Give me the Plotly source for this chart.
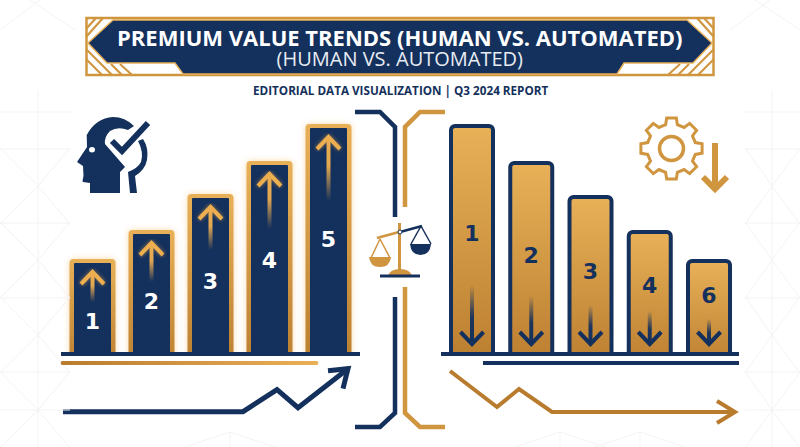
import base64, math
import plotly.graph_objects as go

# ---------- data ----------
human_labels = ["1", "2", "3", "4", "5"]
human_values = [91, 120, 156, 189, 226]
auto_labels = ["1", "2", "3", "4", "6"]
auto_values = [228, 191, 157, 122, 93]
human_trend_x = [0, 180, 214, 235, 285]
human_trend_y = [0, 0, 22, 4, 43]
auto_trend_x = [0, 47, 69, 102, 285]
auto_trend_y = [41, 5, 23, 0, 0]
title_line = "PREMIUM VALUE TRENDS (HUMAN VS. AUTOMATED)"
subtitle_line = "(HUMAN VS. AUTOMATED)"
caption_line = "EDITORIAL DATA VISUALIZATION | Q3 2024 REPORT"

# label heights inside the bars, on the value scale
human_label_at = [31, 51, 71, 92, 113]
auto_label_at = [119, 97, 81, 67, 57]
human_arrow_len = [28, 37, 41, 53, 62]
auto_arrow_len = [59, 48, 39, 33, 25]

NAVY = "#14305C"
GOLD = "#D0953F"
GOLD_L = "#E8B158"
GOLD_D = "#B97C2E"
W, H = 800, 447
BASE = 354
STEP_L, STEP_R = 59.0, 59.25
PAD = 30  # spare room round the trend lines so that strokes and arrow heads are not clipped


def uri(svg):
    return "data:image/svg+xml;base64," + base64.b64encode(svg.encode()).decode()


def frame_svg(w, h, pad, rx, glow):
    f = ('<filter id="b" x="-50%" y="-50%" width="200%" height="200%"><feGaussianBlur stdDeviation="3"/></filter>'
         if glow else "")
    gl = (f'<rect x="{pad}" y="{pad}" width="{w}" height="{h+20}" rx="{rx}" fill="#F2B04A" opacity="0.45" filter="url(#b)"/>'
          if glow else "")
    return uri(
        f'<svg xmlns="http://www.w3.org/2000/svg" width="{w+2*pad}" height="{h+pad}" '
        f'viewBox="0 0 {w+2*pad} {h+pad}" preserveAspectRatio="none"><defs>'
        f'<linearGradient id="g" x1="0" y1="0" x2="0" y2="1"><stop offset="0" stop-color="{GOLD_L}"/>'
        f'<stop offset="1" stop-color="{GOLD_D}"/></linearGradient>{f}</defs>{gl}'
        f'<rect x="{pad}" y="{pad}" width="{w}" height="{h+20}" rx="{rx}" fill="url(#g)"/></svg>')


def arrow_svg(color, length, up, glow):
    w, h = 30, length + 6
    if up:
        head = "M3.5 16 L15 4 L26.5 16"
        shaft = (15, 4, 15, h)
        stops = [(0, 1), (0.45, 0.95), (1, 0)]
    else:
        head = f"M3.5 {h-16} L15 {h-4} L26.5 {h-16}"
        shaft = (15, 2, 15, h - 4)
        stops = [(0, 0), (0.55, 0.95), (1, 1)]
    f = ('<filter id="b" x="-50%" y="-50%" width="200%" height="200%"><feGaussianBlur stdDeviation="2"/></filter>'
         if glow else "")
    gl = f'<path d="{head}" fill="none" stroke="#F2B04A" stroke-width="4" opacity="0.6" filter="url(#b)"/>' if glow else ""
    rect = f'<rect x="{shaft[0]-2}" y="{shaft[1]}" width="4" height="{shaft[3]-shaft[1]}" fill="url(#a)"/>'
    st = "".join(f'<stop offset="{o}" stop-color="{color}" stop-opacity="{a}"/>' for o, a in stops)
    return uri(
        f'<svg xmlns="http://www.w3.org/2000/svg" width="{w}" height="{h}" viewBox="0 0 {w} {h}">'
        f'<defs><linearGradient id="a" x1="0" y1="0" x2="0" y2="1">{st}</linearGradient>{f}</defs>{gl}{rect}'
        f'<path d="{head}" fill="none" stroke="{color}" stroke-width="4"/></svg>')


fig = go.Figure()

# ---------- bars ----------
fig.add_trace(go.Bar(x=list(range(5)), y=human_values, width=37 / STEP_L, xaxis="x", yaxis="y",
                     marker=dict(color=NAVY, line=dict(width=0), cornerradius=1), hoverinfo="skip"))
fig.add_trace(go.Scatter(x=list(range(5)), y=human_label_at, text=human_labels, mode="text", xaxis="x", yaxis="y",
                         textfont=dict(family="DejaVu Sans", size=22, color="white", weight="bold"), hoverinfo="skip"))
fig.add_trace(go.Bar(x=list(range(5)), y=auto_values, width=42 / STEP_R, xaxis="x2", yaxis="y2",
                     marker=dict(color="rgba(0,0,0,0)", line=dict(width=4, color=NAVY), cornerradius=4), hoverinfo="skip"))
fig.add_trace(go.Scatter(x=list(range(5)), y=auto_label_at, text=auto_labels, mode="text", xaxis="x2", yaxis="y2",
                         textfont=dict(family="DejaVu Sans", size=22, color=NAVY, weight="bold"), hoverinfo="skip"))

# ---------- trend lines ----------
fig.add_trace(go.Scatter(x=human_trend_x, y=human_trend_y, mode="lines", xaxis="x3", yaxis="y3",
                         line=dict(color=NAVY, width=5), hoverinfo="skip"))
fig.add_trace(go.Scatter(x=auto_trend_x, y=auto_trend_y, mode="lines", xaxis="x4", yaxis="y4",
                         line=dict(color=GOLD_D, width=4), hoverinfo="skip"))

images = []
# gold frames and arrows, placed from the values through the axes
for i, v in enumerate(human_values):
    pad = 8
    images.append(dict(source=frame_svg(46, v + 4, pad, 4, True), xref="x", yref="y",
                       x=i - (23 + pad) / STEP_L, y=v + 4 + pad, sizex=(46 + 2 * pad) / STEP_L, sizey=v + 4 + pad,
                       sizing="stretch", xanchor="left", yanchor="top", layer="below"))
    L = human_arrow_len[i]
    images.append(dict(source=arrow_svg("#EDAE50", L, True, True), xref="x", yref="y",
                       x=i - 15 / STEP_L, y=v - 5, sizex=30 / STEP_L, sizey=L + 6,
                       sizing="stretch", xanchor="left", yanchor="top", layer="above"))
for i, v in enumerate(auto_values):
    images.append(dict(source=frame_svg(42, v, 0, 2, False), xref="x2", yref="y2",
                       x=i - 21 / STEP_R, y=v, sizex=42 / STEP_R, sizey=v,
                       sizing="stretch", xanchor="left", yanchor="top", layer="below"))
    L = auto_arrow_len[i]
    images.append(dict(source=arrow_svg(NAVY, L, False, False), xref="x2", yref="y2",
                       x=i - 15 / STEP_R, y=6 + L + 6, sizex=30 / STEP_R, sizey=L + 6,
                       sizing="stretch", xanchor="left", yanchor="top", layer="above"))

# gold rule under the human bars
images.append(dict(source=uri(
    f'<svg xmlns="http://www.w3.org/2000/svg" width="258" height="4" viewBox="0 0 258 4" preserveAspectRatio="none">'
    f'<defs><linearGradient id="g"><stop offset="0" stop-color="{GOLD_D}"/><stop offset="1" stop-color="{GOLD_L}"/></linearGradient></defs>'
    f'<rect width="258" height="4" rx="2" fill="url(#g)"/></svg>'),
    xref="x5", yref="y5", x=60.5, y=361, sizex=258, sizey=4, sizing="stretch", xanchor="left", yanchor="top", layer="below"))

# ---------- page decoration ----------
shapes = []


def pth(d, color=None, width=0, fill=None, layer="below", xref="x5", yref="y5"):
    shapes.append(dict(type="path", path=d, xref=xref, yref=yref, layer=layer,
                       line=dict(color=color or "rgba(0,0,0,0)", width=width),
                       fillcolor=fill or "rgba(0,0,0,0)"))


def poly(pts, close=False):
    return "M" + " L".join(f"{x:.1f} {y:.1f}" for x, y in pts) + (" Z" if close else "")


# arrow heads on the trend lines, hung from each line's last point (axis units are one pixel)
hx, hy = human_trend_x[-1], human_trend_y[-1]
pth(poly([(hx - 20, hy - 2), (hx, hy), (hx - 5, hy - 20)]), NAVY, 5, layer="above", xref="x3", yref="y3")
ax_, ay_ = auto_trend_x[-1], auto_trend_y[-1]
pth(poly([(ax_ - 18, ay_ + 11), (ax_, ay_), (ax_ - 18, ay_ - 11)]), GOLD_D, 4, layer="above", xref="x4", yref="y4")

# faint background lattice
FAINT = "#F3F3F4"
for x0, x1, xc in [(0, 70, 38), (745, 800, 772)]:
    for y in [112, 149, 223, 298, 372, 410]:
        pth(poly([(x0, y), (x1, y)]), FAINT, 1)
    pth(poly([(xc, 90), (xc, 447)]), FAINT, 1)
    for yc in [186, 260, 335, 410]:
        pth(poly([(x0, yc + 38), (xc, yc), (x1, yc - 38)]), FAINT, 1)
        pth(poly([(x0, yc - 38), (xc, yc), (x1, yc + 38)]), FAINT, 1)
for xc in [230, 560, 640]:
    pth(poly([(xc - 45, 447), (xc, 432), (xc + 45, 447)]), FAINT, 1)
    pth(poly([(xc, 432), (xc, 447)]), FAINT, 1)
for a, b in [((0, 30), (40, 0)), ((30, 0), (75, 30)), ((770, 0), (730, 30)), ((800, 30), (755, 0))]:
    pth(poly([a, b]), FAINT, 1)

# banner
pth(poly([(86.5, 18), (713.5, 18), (713.5, 75), (86.5, 75)], True), GOLD, 2.5)
for seg in [[(86, 37), (103, 18)], [(86, 29), (96, 18)],
            [(86, 49), (112, 75)], [(86, 59), (102, 75)], [(111, 64), (122, 75)], [(120, 64), (132, 75)],
            [(714, 37), (697, 18)], [(714, 29), (704, 18)],
            [(714, 49), (688, 75)], [(714, 59), (698, 75)], [(689, 64), (678, 75)], [(680, 64), (668, 75)]]:
    pth(poly(seg), GOLD, 2.2)
pth(poly([(113, 20), (687, 20), (712, 43), (693, 63), (624, 63), (617, 74), (183, 74), (175, 63), (107, 63), (88, 43)], True),
    GOLD_L, 1.5, NAVY)

# baselines
for seg, col, wd in [([(61, BASE), (360, BASE)], NAVY, 4), ([(441, BASE), (739, BASE)], NAVY, 4),
                     ([(483, 363), (739, 363)], NAVY, 4)]:
    pth(poly(seg), col, wd, layer="above")

# central brackets
pth(poly([(355, 112), (380, 112), (395, 127), (395, 217)]), NAVY, 4.5)
pth(poly([(355, 427), (380, 427), (395, 413), (395, 297)]), NAVY, 4.5)
pth(poly([(445, 112), (420, 112), (405, 127), (405, 207)]), GOLD, 4.5)
pth(poly([(445, 427), (420, 427), (405, 413), (405, 287)]), GOLD, 4.5)

# scales
pth(poly([(399.5, 223), (399.5, 272)]), GOLD, 3)
pth(poly([(377, 238), (399, 232)]), GOLD, 2.5)
pth(poly([(400, 232), (422, 226)]), NAVY, 2.5)
pth(poly([(380, 239), (371, 258)]), GOLD, 1.5)
pth(poly([(380, 239), (390, 258)]), GOLD, 1.5)
pth(poly([(421, 226), (411, 244)]), NAVY, 1.5)
pth(poly([(421, 226), (431, 244)]), NAVY, 1.5)
pth("M369 257 L391 257 Q390 267 380 267 Q370 267 369 257 Z", fill=GOLD)
pth("M410 244 L431 244 Q430 255 420.5 255 Q411 255 410 244 Z", fill=NAVY)
pth("M388 276 Q390 269 400 269 Q410 269 412 276 Z", fill=GOLD)
pth(poly([(380, 276), (420, 276)]), NAVY, 3)
shapes.append(dict(type="circle", xref="x5", yref="y5", x0=398, x1=402, y0=230, y1=234, fillcolor="white",
                   line=dict(color=NAVY, width=1), layer="below"))

# head and wrench icon
pth("M86.7 135 Q96 118 113 117 Q125 117 134 126 L128 130 Q118 126 110 131 Q104 137 105 144 "
    "L125 167 L120 172 L120 193 L90 193 L90 183 L83 182 Q82 182 83.5 176 L83 166 L77 162 L87 147 Z", fill=NAVY)
pth("M138 141 Q144 152 141 162 Q138 168 128 172 L130 193 L137 193 L135 176 Q145 170 147 160 Q149 148 143 139 Z", fill=NAVY)
pth(poly([(112, 141), (122, 151), (148, 123)]), NAVY, 6)
shapes.append(dict(type="circle", xref="x5", yref="y5", x0=89, x1=95, y0=147, y1=152.5, fillcolor="white",
                   line=dict(width=0), layer="below"))

# gear and arrow icon
cx, cy = 671.5, 148.5
gear = []
for k in range(8):
    a = math.radians(k * 45 - 90)
    for da, r in [(-14, 24.5), (-9, 31), (9, 31), (14, 24.5)]:
        t = a + math.radians(da)
        gear.append((cx + r * math.cos(t), cy + r * math.sin(t)))
pth(poly(gear, True), GOLD, 3)
shapes.append(dict(type="circle", xref="x5", yref="y5", x0=cx - 12, x1=cx + 12, y0=cy - 12, y1=cy + 12,
                   line=dict(color=GOLD, width=3.5), layer="below"))
pth(poly([(715, 143), (715, 188)]), GOLD, 6)
pth(poly([(703, 177), (715, 189), (727, 177)]), GOLD, 6)


# ---------- layout ----------
def ax(**k):
    return dict(visible=False, fixedrange=True, **k)


def dom(a, b):
    return [a / W, b / W]


def vdom(top, bottom):
    return [(H - bottom) / H, (H - top) / H]


fig.update_layout(
    width=W, height=H, margin=dict(l=0, r=0, t=0, b=0), paper_bgcolor="white", plot_bgcolor="rgba(0,0,0,0)",
    showlegend=False, barmode="overlay", shapes=shapes, images=images,
    xaxis=ax(domain=dom(92.5 - 0.5 * STEP_L, 92.5 + 4.5 * STEP_L), range=[-0.5, 4.5]),
    yaxis=ax(domain=vdom(BASE - 250, BASE), range=[0, 250]),
    xaxis2=ax(domain=dom(472 - 0.5 * STEP_R, 472 + 4.5 * STEP_R), range=[-0.5, 4.5], anchor="y2"),
    yaxis2=ax(domain=vdom(BASE - 250, BASE), range=[0, 250], anchor="x2"),
    xaxis3=ax(domain=dom(63 - PAD, 348 + PAD), range=[-PAD, 285 + PAD], anchor="y3"),
    yaxis3=ax(domain=vdom(368.7 - PAD, 411.7 + PAD), range=[-PAD, 43 + PAD], anchor="x3"),
    xaxis4=ax(domain=dom(450 - PAD, 735 + PAD), range=[-PAD, 285 + PAD], anchor="y4"),
    yaxis4=ax(domain=vdom(371 - PAD, 412 + PAD), range=[-PAD, 41 + PAD], anchor="x4"),
    xaxis5=ax(domain=[0, 1], range=[0, W], anchor="y5"),
    yaxis5=ax(domain=[0, 1], range=[H, 0], anchor="x5"),
    annotations=[
        dict(text=f"<span style='font-size:22px;color:white'><b>{title_line}</b></span><br>"
                  f"<span style='font-size:20px;color:#E8ECF2'>{subtitle_line}</span>",
             xref="x5", yref="y5", x=399.5, y=46.5, showarrow=False, align="center",
             font=dict(family="Open Sans", size=15, color="white")),
        dict(text=f"<b>{caption_line}</b>", xref="x5", yref="y5", x=400, y=89.5, showarrow=False,
             font=dict(family="Open Sans", size=11.7, color=NAVY)),
    ],
)
fig.write_html("out.html", config=dict(displayModeBar=False),
               post_script="document.body.style.margin='0';")
